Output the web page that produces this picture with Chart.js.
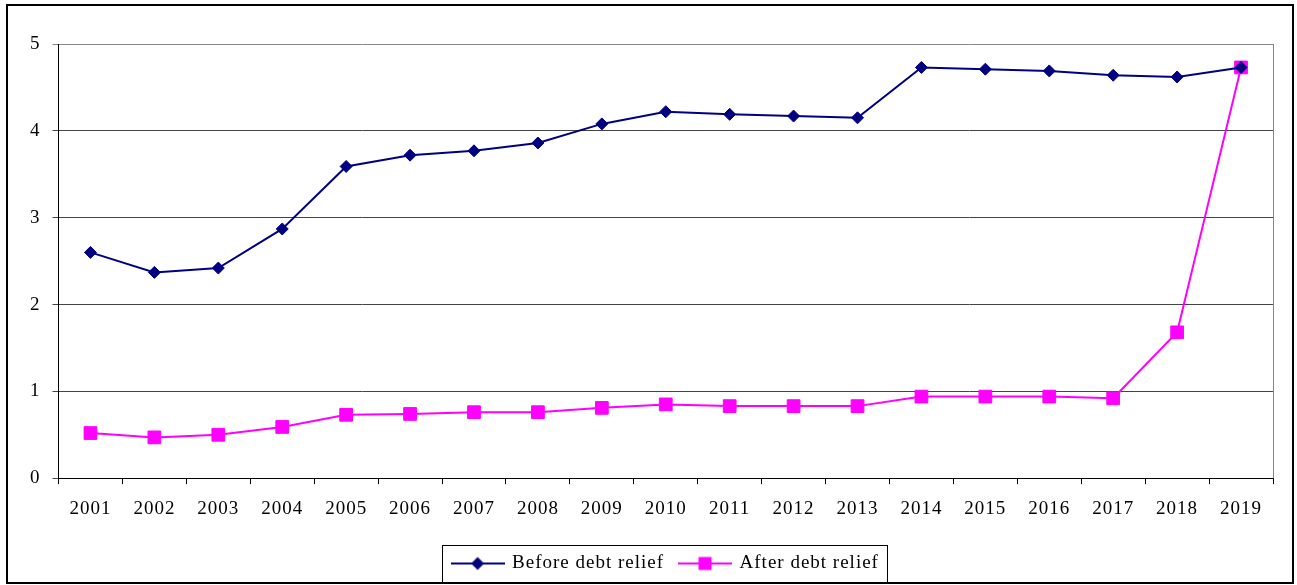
<!doctype html>
<html>
<head>
<meta charset="utf-8" />
<title>Before and after debt relief</title>
<script src="https://cdn.jsdelivr.net/npm/chart.js@4"></script>
<style>
  body { margin: 0; background: #fff; }
  #wrap { position: absolute; left: 0; top: 0; width: 1297px; height: 585px; }
</style>
</head>
<body>
<div id="wrap"><canvas id="joonis"></canvas></div>
<script>
// andmed
const aastad = ['2001', '2002', '2003', '2004', '2005', '2006', '2007', '2008', '2009', '2010',
  '2011', '2012', '2013', '2014', '2015', '2016', '2017', '2018', '2019'];
const enne = [2.60, 2.37, 2.42, 2.87, 3.59, 3.72, 3.77, 3.86, 4.08, 4.22,
  4.19, 4.17, 4.15, 4.73, 4.71, 4.69, 4.64, 4.62, 4.73];
const parast = [0.52, 0.47, 0.50, 0.59, 0.73, 0.74, 0.76, 0.76, 0.81, 0.85,
  0.83, 0.83, 0.83, 0.94, 0.94, 0.94, 0.92, 1.68, 4.73];
const yMin = 0, yMax = 5, ySamm = 1;

const sinine = '#000080';
const roosa = '#FF00FF';
const kiri = 'Liberation Serif';

// legendi pildid: joon + marker
function legendiPilt(varv, kuju) {
  const c = document.createElement('canvas');
  c.width = 54; c.height = 18;
  const g = c.getContext('2d');
  g.strokeStyle = varv; g.lineWidth = 2;
  g.beginPath(); g.moveTo(0, 9); g.lineTo(54, 9); g.stroke();
  g.fillStyle = varv;
  if (kuju === 'romb') {
    g.beginPath();
    g.moveTo(27, 2.5); g.lineTo(33.5, 9); g.lineTo(27, 15.5); g.lineTo(20.5, 9);
    g.closePath(); g.fill();
  } else {
    g.fillRect(20.5, 2.5, 13, 13);
  }
  return c;
}
const pildid = [legendiPilt(sinine, 'romb'), legendiPilt(roosa, 'ruut')];

const raamid = {
  id: 'raamid',
  beforeInit(chart) { chart.ctx.letterSpacing = '1px'; },
  beforeUpdate(chart) { chart.ctx.letterSpacing = '1px'; },
  beforeDatasetsDraw(chart) {
    const a = chart.chartArea, ctx = chart.ctx;
    ctx.save();
    ctx.strokeStyle = '#888'; ctx.lineWidth = 1;
    ctx.beginPath();
    ctx.moveTo(Math.round(a.right) + 0.5, a.top);
    ctx.lineTo(Math.round(a.right) + 0.5, a.bottom);
    ctx.stroke();
    ctx.restore();
  },
  afterDraw(chart) {
    const ctx = chart.ctx;
    const kastid = chart.legend.legendHitBoxes;
    ctx.save();
    if (kastid && kastid.length) {
      const vasak = Math.min(...kastid.map(k => k.left)) - 11;
      const parem = Math.max(...kastid.map(k => k.left + k.width)) + 8;
      const ylem = kastid[0].top - 9;
      ctx.strokeStyle = '#000'; ctx.lineWidth = 1;
      ctx.strokeRect(Math.round(vasak) + 0.5, Math.round(ylem) + 0.5, Math.round(parem - vasak), 583 - Math.round(ylem));
    }
    ctx.strokeStyle = '#000'; ctx.lineWidth = 2;
    ctx.strokeRect(7, 5, 1286, 578);
    ctx.restore();
  }
};

new Chart(document.getElementById('joonis'), {
  type: 'line',
  data: {
    labels: aastad,
    datasets: [
      {
        label: 'Before debt relief',
        data: enne,
        borderColor: sinine,
        backgroundColor: sinine,
        borderWidth: 2,
        pointStyle: 'rectRot',
        pointRadius: 6,
        pointBorderWidth: 1,
        tension: 0
      },
      {
        label: 'After debt relief',
        data: parast,
        borderColor: roosa,
        backgroundColor: roosa,
        borderWidth: 2,
        pointStyle: 'rect',
        pointRadius: 9,
        pointBorderWidth: 1,
        tension: 0
      }
    ]
  },
  options: {
    responsive: true,
    maintainAspectRatio: false,
    animation: false,
    layout: { padding: { left: 18, right: 24, top: 44, bottom: 2 } },
    plugins: {
      tooltip: { enabled: false },
      legend: {
        position: 'bottom',
        fullSize: false,
        labels: {
          usePointStyle: true,
          pointStyleWidth: 50,
          boxHeight: 18,
          color: '#000',
          padding: 16,
          font: { family: kiri, size: 19 },
          generateLabels: chart => chart.data.datasets.map((ds, i) => ({
            text: ds.label,
            pointStyle: pildid[i],
            datasetIndex: i,
            fillStyle: ds.borderColor,
            strokeStyle: ds.borderColor,
            lineWidth: 0,
            hidden: false,
            fontColor: '#000'
          }))
        }
      }
    },
    scales: {
      x: {
        offset: true,
        afterFit: s => { s.height += 5; },
        grid: { offset: true, drawOnChartArea: false, drawTicks: true, tickLength: 6, color: '#000' },
        border: { color: '#000', width: 1 },
        ticks: { color: '#000', padding: 13, maxRotation: 0, autoSkip: false, font: { family: kiri, size: 19 } }
      },
      y: {
        min: yMin,
        max: yMax,
        grid: {
          tickLength: 6,
          color: c => (c.tick && c.tick.value === yMax) ? '#888' : '#444'
        },
        border: { color: '#000', width: 1 },
        ticks: { stepSize: ySamm, color: '#000', padding: 12, font: { family: kiri, size: 19 } }
      }
    }
  },
  plugins: [raamid]
});
</script>
</body>
</html>
